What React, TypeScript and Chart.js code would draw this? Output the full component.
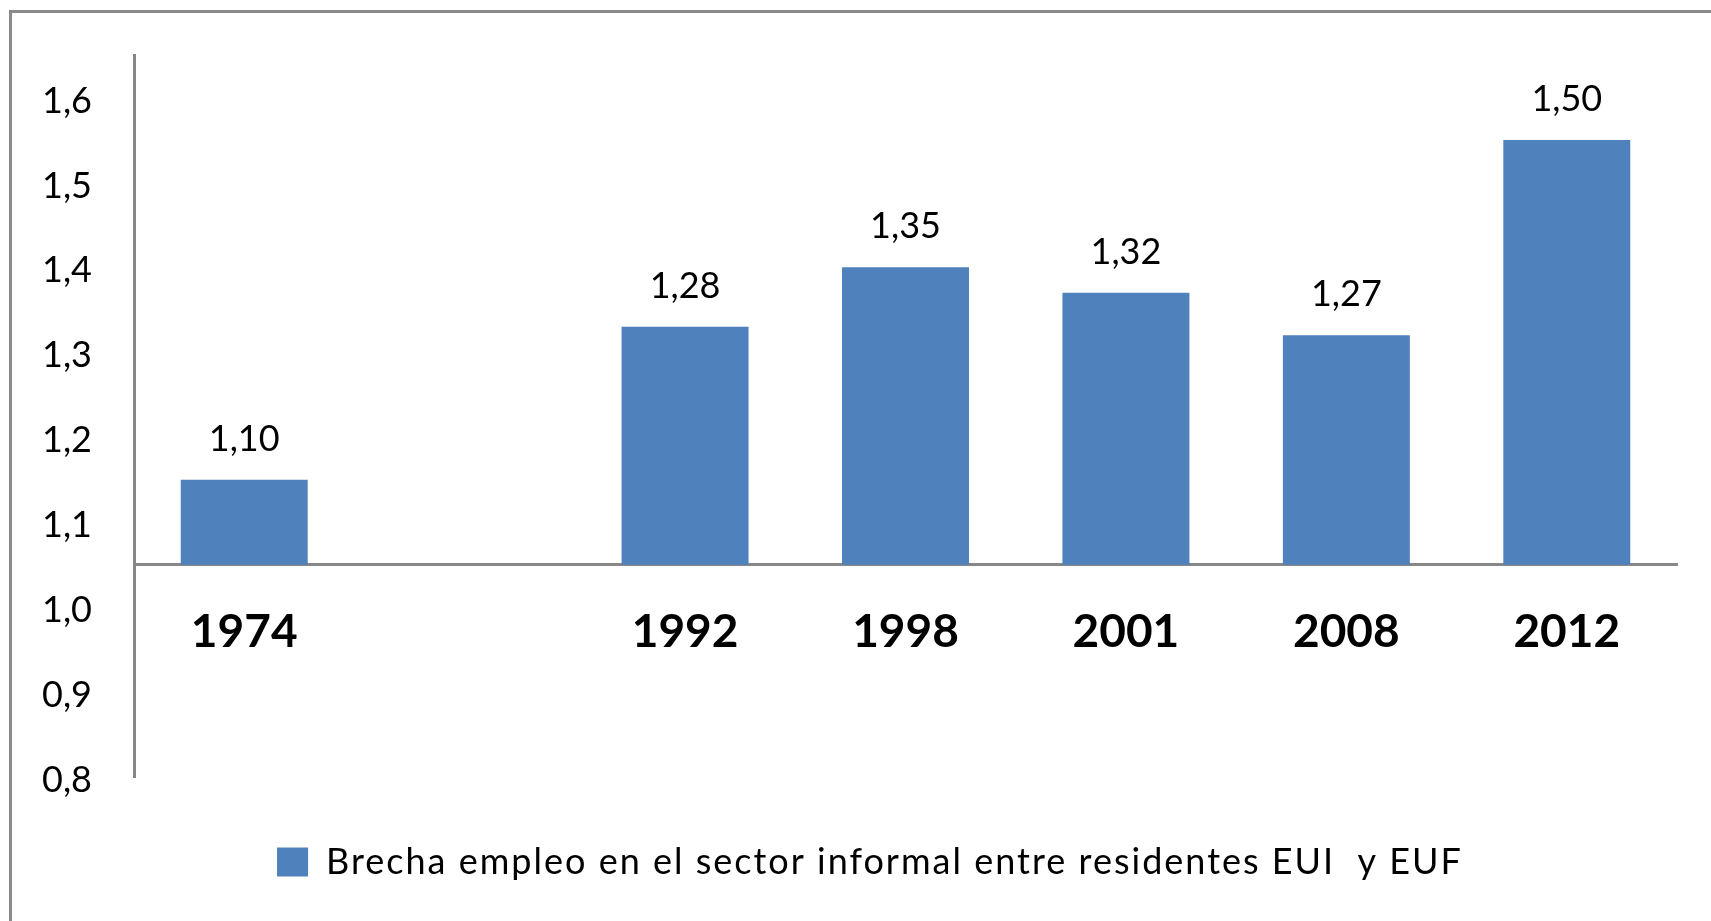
import React, { useEffect, useRef } from "react";
import { Chart, registerables } from "chart.js";

Chart.register(...registerables);

const categories = ["1974", "", "1992", "1998", "2001", "2008", "2012"];
const seriesValues: (number | null)[] = [1.1, null, 1.28, 1.35, 1.32, 1.27, 1.5];
const dataLabels = ["1,10", "", "1,28", "1,35", "1,32", "1,27", "1,50"];
const yTickValues = [0.8, 0.9, 1.0, 1.1, 1.2, 1.3, 1.4, 1.5, 1.6];
const seriesName = "Brecha empleo en el sector informal entre residentes EUI  y EUF";

const FONT = "Lato, 'Open Sans', sans-serif";

const valueLabelPlugin = {
  id: "valueLabels",
  afterDatasetsDraw(chart: any) {
    const ctx = chart.ctx;
    const meta = chart.getDatasetMeta(0);
    ctx.save();
    ctx.font = `36px ${FONT}`;
    ctx.fillStyle = "#000";
    ctx.textAlign = "center";
    ctx.textBaseline = "alphabetic";
    meta.data.forEach((bar: any, i: number) => {
      if (seriesValues[i] == null) return;
      ctx.fillText(dataLabels[i], bar.x, bar.y - 29);
    });
    ctx.restore();
  },
};

// gives the legend text the looser tracking seen in the reference,
// and centres the legend a little to the right like the original
const legendSpacingPlugin = {
  id: "legendSpacing",
  afterInit(chart: any) {
    const lg = chart.legend;
    if (!lg || lg._spaced) return;
    const wrap = (name: string) => {
      const orig = lg[name].bind(lg);
      lg[name] = (...args: any[]) => {
        const ctx = chart.ctx;
        ctx.save();
        ctx.letterSpacing = "2px";
        const r = orig(...args);
        ctx.restore();
        return r;
      };
    };
    wrap("fit");
    wrap("draw");
    lg._spaced = true;
  },
  afterLayout(chart: any) {
    const lg = chart.legend;
    if (!lg) return;
    lg.left = 63;
    lg.width = lg.right - lg.left;
  },
};

export default function App() {
  const ref = useRef<HTMLCanvasElement | null>(null);
  useEffect(() => {
    if (!ref.current) return;
    const chart = new Chart(ref.current, {
      type: "bar",
      data: {
        labels: categories,
        datasets: [
          {
            label: seriesName,
            data: seriesValues,
            backgroundColor: "#4F81BD",
            base: 1.0,
            barPercentage: 0.576,
            categoryPercentage: 1,
          },
        ],
      },
      plugins: [valueLabelPlugin, legendSpacingPlugin],
      options: {
        animation: false,
        responsive: false,
        maintainAspectRatio: false,
        layout: { padding: { top: 55, right: 34, left: 0, bottom: 31 } },
        plugins: {
          tooltip: { enabled: false },
          legend: {
            position: "bottom",
            title: {
              display: true,
              text: " ",
              font: { family: FONT, size: 47, lineHeight: 1 },
              padding: 0,
            },
            labels: {
              boxWidth: 31,
              boxHeight: 29,
              color: "#000",
              font: { family: FONT, size: 36 },
              padding: 20,
            },
          },
        },
        scales: {
          x: {
            position: { y: 1.0 },
            grid: { display: false, drawTicks: false },
            border: { display: true, color: "#878787", width: 3 },
            ticks: {
              color: "#000",
              font: { family: FONT, size: 46, weight: "bold" },
              padding: 40,
              maxRotation: 0,
              autoSkip: false,
            },
          },
          y: {
            min: 0.75,
            max: 1.6,
            afterBuildTicks: (axis: any) => {
              axis.ticks = yTickValues.map((v) => ({ value: v }));
            },
            afterFit: (axis: any) => {
              axis.width = 134;
              axis.paddingTop = 0;
              axis.paddingBottom = 0;
            },
            grid: { display: false, drawTicks: false },
            border: { display: true, color: "#878787", width: 3 },
            ticks: {
              color: "#000",
              font: { family: FONT, size: 36 },
              padding: 42,
              labelOffset: 46,
              callback: (v: any) => Number(v).toFixed(1).replace(".", ","),
            },
          },
        },
      },
    });
    return () => chart.destroy();
  }, []);
  return (
    <div style={{ position: "fixed", left: 0, top: 0, width: 1711, height: 921, background: "#fff" }}>
      <div
        style={{
          position: "absolute",
          left: 9,
          top: 10,
          right: -10,
          bottom: -10,
          borderLeft: "3px solid #8a8a8a",
          borderTop: "3px solid #8a8a8a",
          pointerEvents: "none",
        }}
      />
      <canvas ref={ref} width={1711} height={921} style={{ position: "absolute", left: 0, top: 0 }} />
    </div>
  );
}
